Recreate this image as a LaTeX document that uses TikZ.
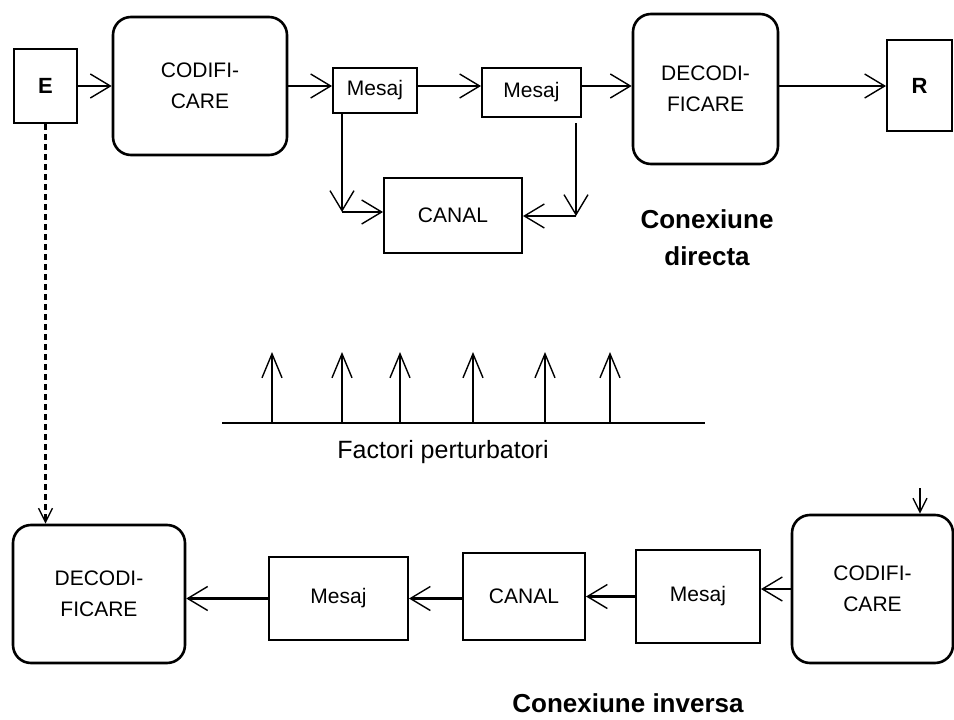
\documentclass[tikz,border=0pt]{standalone}
\usepackage{fontspec}
\setmainfont{Liberation Sans}
\usetikzlibrary{arrows.meta}
\begin{document}
\begin{tikzpicture}[
  x=1pt, y=-1pt,
  blk/.style={draw, line width=2pt, inner sep=0pt, align=center,
              font=\fontsize{21}{31}\selectfont},
  rblk/.style={blk, line width=2.6pt, rounded corners=18pt},
  endbox/.style={blk, font=\bfseries\fontsize{22}{26}\selectfont},
  arr/.style={line width=2.2pt,
              -{Straight Barb[length=20pt,width=24pt,line width=1.4pt]}},
  uparr/.style={line width=2.2pt,
                -{Straight Barb[length=24pt,width=20pt,line width=1.4pt]}},
  smallarr/.style={line width=2.2pt,
                   -{Straight Barb[length=14pt,width=14pt,line width=1.4pt]}},
  lbltxt/.style={font=\bfseries\fontsize{26}{37}\selectfont, align=center},
]
\useasboundingbox (0,0) rectangle (954,720);

\node[endbox, minimum width=63pt,  minimum height=74pt]  (E)      at (45.5,86)   {E};
\node[rblk,   minimum width=174pt, minimum height=138pt] (codt)   at (200,86)    {CODIFI-\\CARE};
\node[blk,    minimum width=84pt,  minimum height=45pt]  (m1)     at (375,90.5)  {Mesaj};
\node[blk,    minimum width=99pt,  minimum height=49pt]  (m2)     at (531.5,92.5){Mesaj};
\node[rblk,   minimum width=145pt, minimum height=150pt] (dect)   at (705.5,89)  {DECODI-\\FICARE};
\node[endbox, minimum width=65pt,  minimum height=91pt]  (R)      at (919.5,85.5){R};
\node[blk,    minimum width=138pt, minimum height=75pt]  (canalt) at (453,215.5) {CANAL};
\node[lbltxt] (cdir) at (707,238) {Conexiune\\directa};

\coordinate (jl) at (342,212);
\coordinate (jr) at (576,216);

\draw[arr] (E) -- (codt);
\draw[arr] (codt.east) -- (codt.east -| m1.west);
\draw[arr] (m1.east |- codt.east) -- (m2.west |- codt.east);
\draw[arr] (m2.east |- codt.east) -- (dect.west |- codt.east);
\draw[arr] (dect.east |- codt.east) -- (R.west |- codt.east);
\draw[arr] (m1.south -| jl) -- (jl);
\draw[arr] (jl) -- (jl -| canalt.west);
\draw[arr] ([yshift=-5pt]m2.south -| jr) -- (jr);
\draw[arr] (jr) -- (jr -| canalt.east);

\draw[line width=2pt] (222,423) -- (705,423);
\foreach \x in {272,342,400,473,545,610}
  \draw[uparr] (\x,423) -- ++(0,-71);
\node[font=\fontsize{25}{30}\selectfont] (fp) at (443,452) {Factori perturbatori};

\node[rblk, minimum width=172pt, minimum height=138pt] (decb) at (99,594)     {DECODI-\\FICARE};
\node[blk,  minimum width=139pt, minimum height=83pt]  (mb1)  at (338.5,598.5){Mesaj};
\node[blk,  minimum width=122pt, minimum height=87pt]  (canb) at (524,596.5)  {CANAL};
\node[blk,  minimum width=124pt, minimum height=93pt]  (mb2)  at (698,596.5)  {Mesaj};
\node[rblk, minimum width=161pt, minimum height=148pt] (codb) at (872.5,589)  {CODIFI-\\CARE};
\node[lbltxt, anchor=base] (cinv) at (628,712) {Conexiune inversa};

\coordinate (ytop) at (920,488);

\draw[arr] (codb.west) -- (codb.west -| mb2.east);
\draw[arr] (mb2.west) -- (mb2.west -| canb.east);
\draw[arr] (canb.west |- mb1) -- (mb1.east);
\draw[arr] (mb1.west) -- (mb1.west -| decb.east);
\draw[smallarr] (ytop) -- (ytop |- codb.north);
\draw[smallarr, dash pattern=on 6pt off 4pt] (E.south) -- (E.south |- decb.north);
\end{tikzpicture}
\end{document}
